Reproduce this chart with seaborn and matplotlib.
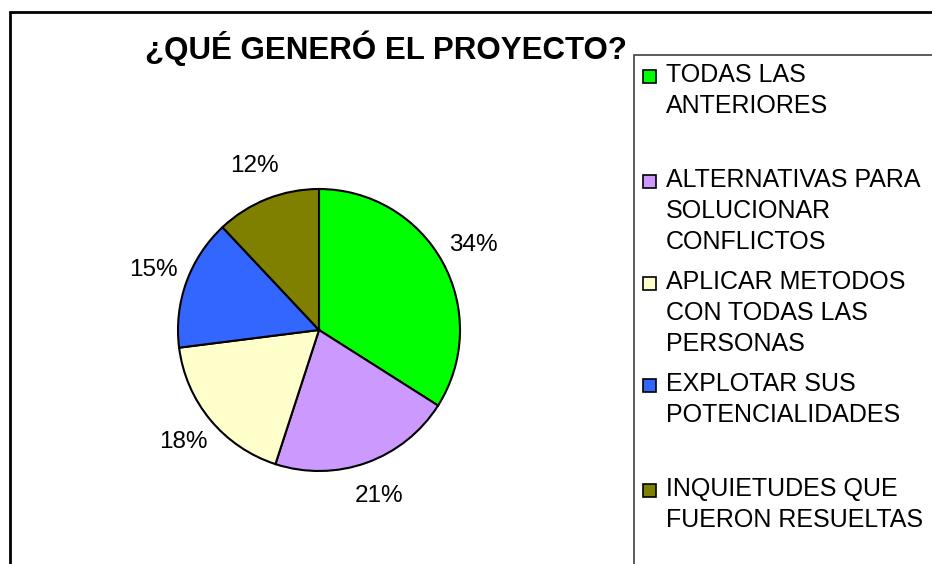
import matplotlib
matplotlib.use("Agg")
import matplotlib.pyplot as plt
import seaborn as sns
from matplotlib.patches import Rectangle

# ---- data ----
categories = [
    "TODAS LAS\nANTERIORES",
    "ALTERNATIVAS PARA\nSOLUCIONAR\nCONFLICTOS",
    "APLICAR METODOS\nCON TODAS LAS\nPERSONAS",
    "EXPLOTAR SUS\nPOTENCIALIDADES",
    "INQUIETUDES QUE\nFUERON RESUELTAS",
]
values = [34, 21, 18, 15, 12]
colors = ["#00FF00", "#CC99FF", "#FFFFCC", "#3366FF", "#808000"]
title = "¿QUÉ GENERÓ EL PROYECTO?"

sns.set_style("white")
plt.rcParams["font.family"] = ["Liberation Sans", "DejaVu Sans"]

W, H = 932, 564
fig = plt.figure(figsize=(W / 100, H / 100), dpi=100)
fig.patch.set_facecolor("white")

def px(x, y):
    return x / W, 1 - y / H

# outer chart border
fig.patches.append(Rectangle(px(10, 580), (W + 20 - 10) / W, (580 - 12) / H,
                             transform=fig.transFigure, fill=False,
                             edgecolor="black", linewidth=2.0))

# pie axes: center (319,330), radius 141 px
cx, cy, r = 319, 330, 141
ax = fig.add_axes([(cx - r) / W, (H - cy - r) / H, 2 * r / W, 2 * r / H])
ax.pie(values, colors=colors, startangle=90, counterclock=False,
       autopct=lambda p: f"{p:.0f}%", pctdistance=1.25,
       wedgeprops=dict(edgecolor="black", linewidth=1.5),
       textprops=dict(fontsize=17.5, color="black"))
ax.set_xlim(-1, 1)
ax.set_ylim(-1, 1)
ax.set_aspect("equal")
ax.axis("off")

# title
fig.text(*px(386, 48), title, ha="center", va="center",
         fontsize=22.5, fontweight="bold", color="black")

# legend box
fig.patches.append(Rectangle(px(634, 580), (W + 20 - 634) / W, (580 - 55) / H,
                             transform=fig.transFigure, fill=False,
                             edgecolor="#404040", linewidth=1.2))

legend_y = [75, 180, 282, 384, 489]
line_h = 31
for lab, col, y in zip(categories, colors, legend_y):
    fig.patches.append(Rectangle(px(643, y + 8), 13 / W, 13 / H,
                                 transform=fig.transFigure, facecolor=col,
                                 edgecolor="black", linewidth=1.2))
    for i, line in enumerate(lab.split("\n")):
        fig.text(*px(666, y + i * line_h), line, ha="left", va="center",
                 fontsize=18, color="black")

fig.savefig("out.png", dpi=100, facecolor="white")
